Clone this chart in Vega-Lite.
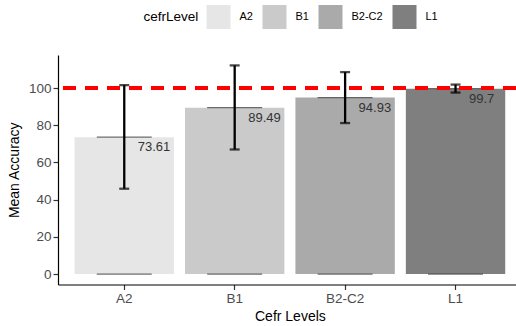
{
  "$schema": "https://vega.github.io/schema/vega-lite/v6.json",
  "autosize": {"type": "none"},
  "padding": {"left": 58, "top": 55, "right": 0, "bottom": 41.5},
  "width": 458,
  "height": 229.5,
  "data": {"values": [
    {"cefrLevel": "A2", "mean": 73.61, "lo": 45.9, "hi": 101.6},
    {"cefrLevel": "B1", "mean": 89.49, "lo": 67.0, "hi": 112.2},
    {"cefrLevel": "B2-C2", "mean": 94.93, "lo": 81.2, "hi": 108.6},
    {"cefrLevel": "L1", "mean": 99.7, "lo": 97.6, "hi": 101.9}
  ]},
  "encoding": {
    "x": {
      "field": "cefrLevel", "type": "nominal", "sort": ["A2", "B1", "B2-C2", "L1"],
      "scale": {"range": [0, 463.8], "paddingInner": 0.1, "paddingOuter": 0.15},
      "axis": {
        "title": "Cefr Levels", "labelAngle": 0, "labelFontSize": 13.5, "labelColor": "#4D4D4D",
        "labelPadding": 2, "tickSize": 5, "tickColor": "#333333", "tickWidth": 1.2,
        "domainColor": "#000000", "domainWidth": 1.2, "titleFontSize": 14, "titleFontWeight": "normal",
        "titleColor": "#000000", "titlePadding": 4
      }
    }
  },
  "layer": [
    {
      "mark": {"type": "bar", "strokeWidth": 0},
      "encoding": {
        "y": {
          "field": "mean", "type": "quantitative",
          "scale": {"domain": [-5.6, 117.8], "nice": false, "zero": false},
          "axis": {
            "title": "Mean Accuracy", "values": [0, 20, 40, 60, 80, 100], "grid": false,
            "labelFontSize": 13.5, "labelColor": "#4D4D4D", "labelPadding": 2,
            "tickSize": 5, "tickColor": "#333333", "tickWidth": 1.2,
            "domainColor": "#000000", "domainWidth": 1.2, "titleFontSize": 14,
            "titleFontWeight": "normal", "titleColor": "#000000", "titlePadding": 7
          }
        },
        "y2": {"datum": 0},
        "color": {
          "field": "cefrLevel", "type": "nominal",
          "scale": {"domain": ["A2", "B1", "B2-C2", "L1"], "range": ["#E6E6E6", "#CACACA", "#AAAAAA", "#7F7F7F"]},
          "legend": {
            "orient": "none", "direction": "horizontal", "legendX": 85.5, "legendY": -50,
            "title": "cefrLevel", "titleOrient": "left", "titleFontSize": 13.5, "titleFontWeight": "normal",
            "titleColor": "#000000", "titlePadding": 8, "titleBaseline": "middle",
            "labelFontSize": 11, "labelColor": "#000000", "labelOffset": 9, "columnPadding": 9,
            "symbolType": "square", "symbolSize": 576, "symbolStrokeWidth": 0, "symbolOpacity": 1
          }
        }
      }
    },
    {
      "mark": {"type": "tick", "color": "#333333", "thickness": 1.2, "size": 55},
      "encoding": {"y": {"field": "mean", "type": "quantitative"}}
    },
    {
      "mark": {"type": "tick", "color": "#333333", "thickness": 1.2, "size": 55},
      "encoding": {"y": {"datum": 0}}
    },
    {
      "mark": {"type": "rule", "color": "#FF0000", "strokeDash": [13, 9], "strokeWidth": 3.5},
      "encoding": {"x": null, "y": {"datum": 100}}
    },
    {
      "mark": {"type": "rule", "color": "#000000", "strokeWidth": 2.3},
      "encoding": {"y": {"field": "lo", "type": "quantitative"}, "y2": {"field": "hi"}}
    },
    {
      "mark": {"type": "tick", "color": "#000000", "thickness": 2.3, "size": 10},
      "encoding": {"y": {"field": "lo", "type": "quantitative"}}
    },
    {
      "mark": {"type": "tick", "color": "#000000", "thickness": 2.3, "size": 10},
      "encoding": {"y": {"field": "hi", "type": "quantitative"}}
    },
    {
      "mark": {"type": "text", "align": "left", "baseline": "middle", "dx": 13.5, "dy": 10, "fontSize": 13, "color": "#333333"},
      "encoding": {"y": {"field": "mean", "type": "quantitative"}, "text": {"field": "mean", "type": "nominal"}}
    }
  ],
  "config": {
    "font": "Liberation Sans",
    "view": {"stroke": null}
  }
}
